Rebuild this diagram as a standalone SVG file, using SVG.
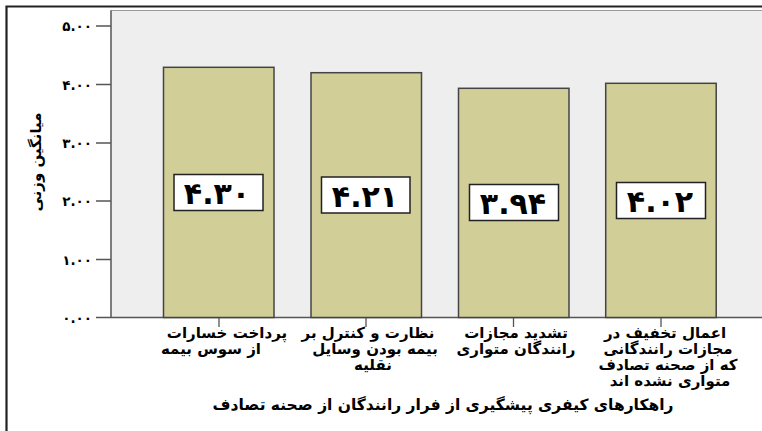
<svg xmlns="http://www.w3.org/2000/svg" width="762" height="431" viewBox="0 0 762 431">
<style>
  .fa{font-family:"DejaVu Sans","Noto Sans",sans-serif;font-weight:bold;fill:#000}
  .cat{font-size:15px}
  .tick{font-size:13.5px}
  .val{font-size:30px}
  .bar{fill:#D2CE98;stroke:#444;stroke-width:1.5}
  .box{fill:#fff;stroke:#222;stroke-width:1.5}
  .ax{stroke:#555;stroke-width:1.3;fill:none}
</style>
<rect x="0" y="0" width="762" height="431" fill="#fff"/>
<!-- outer frame -->
<path d="M6.5,431 V6.5 H762" fill="none" stroke="#222" stroke-width="2.2"/>
<!-- plot area -->
<rect x="111" y="10.5" width="660" height="307" fill="#EEEEEE" stroke="#999" stroke-width="1"/>
<line x1="111" y1="10.5" x2="111" y2="317.5" stroke="#555" stroke-width="1.3"/>
<line x1="111" y1="317.5" x2="762" y2="317.5" stroke="#555" stroke-width="1.3"/>

<!-- y axis ticks and labels -->
<g id="yaxis">
  <path class="ax" d="M96,26H111 M96,84.5H111 M96,143H111 M96,201H111 M96,259.5H111 M96,317.5H111"/>
  <text class="fa tick" x="92" y="31" text-anchor="end" letter-spacing="2">۵.۰۰</text>
  <text class="fa tick" x="92" y="89.5" text-anchor="end" letter-spacing="2">۴.۰۰</text>
  <text class="fa tick" x="92" y="148" text-anchor="end" letter-spacing="2">۳.۰۰</text>
  <text class="fa tick" x="92" y="206" text-anchor="end" letter-spacing="2">۲.۰۰</text>
  <text class="fa tick" x="92" y="264.5" text-anchor="end" letter-spacing="2">۱.۰۰</text>
  <text class="fa tick" x="92" y="322.5" text-anchor="end" letter-spacing="2">۰.۰۰</text>
  <text class="fa" font-size="15" transform="translate(41,162) rotate(-90)" text-anchor="middle" direction="rtl">میانگین وزنی</text>
</g>

<!-- connectors: category ticks -->
<g id="connectors">
  <path class="ax" d="M219,318V327 M366,318V327 M513.5,318V327 M661,318V327"/>
</g>

<g id="bar1">
  <rect class="bar" x="163.5" y="67.3" width="110.5" height="250.2"/>
  <rect class="box" x="174" y="174.5" width="89" height="36"/>
  <text class="fa val" x="217" y="204" text-anchor="middle" letter-spacing="1">۴.۳۰</text>
  <text class="fa cat" x="227" y="338" text-anchor="middle" direction="rtl">پرداخت خسارات</text>
  <text class="fa cat" x="211" y="354" text-anchor="middle" direction="rtl">از سوس بیمه</text>
</g>
<g id="bar2">
  <rect class="bar" x="311" y="72.7" width="110.5" height="244.8"/>
  <rect class="box" x="321.5" y="177" width="88.5" height="36"/>
  <text class="fa val" x="365" y="206.5" text-anchor="middle" letter-spacing="1">۴.۲۱</text>
  <text class="fa cat" x="368" y="338" text-anchor="middle" direction="rtl">نظارت و کنترل بر</text>
  <text class="fa cat" x="375" y="354" text-anchor="middle" direction="rtl">بیمه بودن وسایل</text>
  <text class="fa cat" x="373" y="370" text-anchor="middle" direction="rtl">نقلیه</text>
</g>
<g id="bar3">
  <rect class="bar" x="458.5" y="88.3" width="110.5" height="229.2"/>
  <rect class="box" x="469.5" y="184.5" width="89" height="36"/>
  <text class="fa val" x="513" y="214" text-anchor="middle" letter-spacing="1">۳.۹۴</text>
  <text class="fa cat" x="516" y="338" text-anchor="middle" direction="rtl">تشدید مجازات</text>
  <text class="fa cat" x="516" y="354" text-anchor="middle" direction="rtl">رانندگان متواری</text>
</g>
<g id="bar4">
  <rect class="bar" x="605.7" y="83.3" width="110.5" height="234.2"/>
  <rect class="box" x="616.5" y="182.5" width="89" height="36"/>
  <text class="fa val" x="660" y="212" text-anchor="middle" letter-spacing="1">۴.۰۲</text>
  <text class="fa cat" x="665" y="338" text-anchor="middle" direction="rtl">اعمال تخفیف در</text>
  <text class="fa cat" x="668" y="354" text-anchor="middle" direction="rtl">مجازات  رانندگانی</text>
  <text class="fa cat" x="668" y="370" text-anchor="middle" direction="rtl">که از صحنه تصادف</text>
  <text class="fa cat" x="670" y="386" text-anchor="middle" direction="rtl">متواری نشده اند</text>
</g>

<g id="xtitle">
  <text class="fa" font-size="15.5" x="443" y="410" text-anchor="middle" direction="rtl">راهکارهای کیفری پیشگیری از فرار رانندگان از صحنه تصادف</text>
</g>
</svg>
